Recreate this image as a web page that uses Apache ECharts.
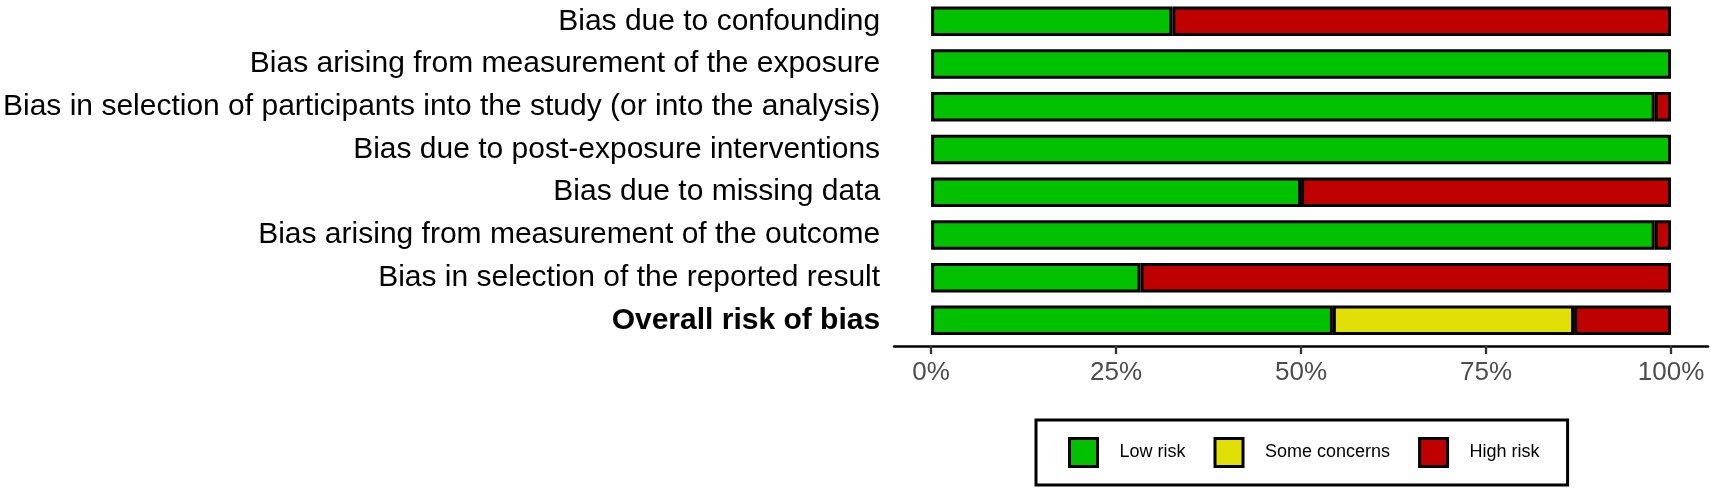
<!DOCTYPE html>
<html>
<head>
<meta charset="utf-8">
<script src="https://cdn.jsdelivr.net/npm/echarts@6/dist/echarts.min.js"></script>
<style>
html,body{margin:0;padding:0;background:#fff;}
#chart{width:1713px;height:492px;}
</style>
</head>
<body>
<div id="chart"></div>
<script>
const categories = [
  "Bias due to confounding",
  "Bias arising from measurement of the exposure",
  "Bias in selection of participants into the study (or into the analysis)",
  "Bias due to post-exposure interventions",
  "Bias due to missing data",
  "Bias arising from measurement of the outcome",
  "Bias in selection of the reported result",
  "Overall risk of bias"
];
const lowRisk      = [32.6, 100, 97.8, 100, 50, 97.8, 28.3, 54.3];
const someConcerns = [0, 0, 0, 0, 0, 0, 0, 32.6];
const highRisk     = [67.4, 0, 2.2, 0, 50, 2.2, 71.7, 13.1];
const tickValues = [0, 25, 50, 75, 100];

const FONT = '"Liberation Sans", Arial, Helvetica, sans-serif';
const chart = echarts.init(document.getElementById('chart'), null, {renderer: 'canvas'});
const clean = arr => arr.map(v => v === 0 ? '-' : v);

function barSeries(name, data, color) {
  return {
    name: name,
    type: 'bar',
    stack: 'rob',
    data: clean(data),
    barWidth: 29.5,
    itemStyle: {color: color, borderColor: '#000', borderWidth: 3},
    emphasis: {disabled: true},
    silent: true
  };
}

const yData = categories.map((c, i) => i === categories.length - 1
  ? {value: c, textStyle: {fontWeight: 'bold'}} : c);

chart.setOption({
  animation: false,
  backgroundColor: '#fff',
  grid: {left: 894, right: 5, top: -0.9, height: 342.6, containLabel: false},
  xAxis: {
    type: 'value',
    min: -5, max: 105,
    offset: 4.3,
    splitLine: {show: false},
    axisLine: {show: true, lineStyle: {color: '#000', width: 2.5}},
    axisTick: {show: true, customValues: tickValues, length: 8, lineStyle: {color: '#333', width: 2.3}},
    axisLabel: {customValues: tickValues, formatter: '{value}%', fontSize: 26, color: '#4d4d4d', fontFamily: FONT, margin: 14}
  },
  yAxis: {
    type: 'category',
    inverse: true,
    data: yData,
    axisLine: {show: false},
    axisTick: {show: false},
    splitLine: {show: false},
    axisLabel: {fontSize: 30, color: '#000', fontFamily: FONT, margin: 14}
  },
  legend: {
    left: 1036, top: 420,
    orient: 'horizontal',
    icon: 'rect',
    itemWidth: 28, itemHeight: 28,
    itemGap: 28,
    padding: [17, 28, 17, 32],
    borderColor: '#000', borderWidth: 3, borderRadius: 0,
    backgroundColor: '#fff',
    itemStyle: {borderColor: '#000', borderWidth: 3},
    textStyle: {fontSize: 18, color: '#000', fontFamily: FONT, padding: [0, 0, 0, 17]},
    selectedMode: false,
    data: ['Low risk', 'Some concerns', 'High risk']
  },
  series: [
    barSeries('Low risk', lowRisk, '#02C100'),
    barSeries('Some concerns', someConcerns, '#E2DF07'),
    barSeries('High risk', highRisk, '#BF0000')
  ]
});
</script>
</body>
</html>
